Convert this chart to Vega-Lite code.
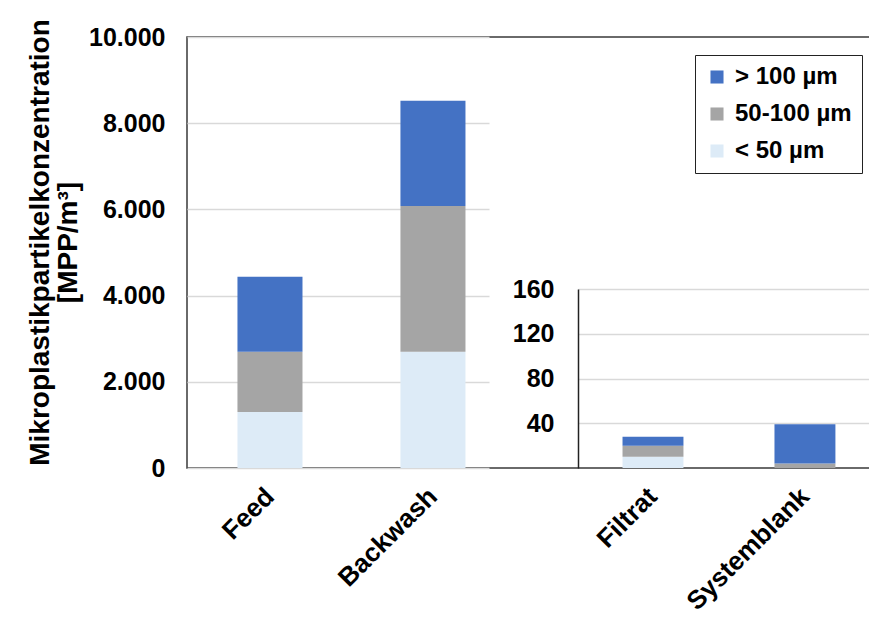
{
  "$schema": "https://vega.github.io/schema/vega-lite/v6.json",
  "width": 683,
  "height": 431,
  "autosize": "none",
  "padding": {"left": 187, "top": 37, "right": -1, "bottom": 151},
  "background": "white",
  "config": {
    "font": "Liberation Sans",
    "view": {"stroke": "#3a3a3a", "strokeWidth": 1.5},
    "axis": {"labelFont": "Liberation Sans", "titleFont": "Liberation Sans", "labelColor": "black", "titleColor": "black"}
  },
  "datasets": {
    "main": [
      {"Probe": "Feed", "Größe": "< 50 µm", "Wert": 1300},
      {"Probe": "Feed", "Größe": "50-100 µm", "Wert": 1400},
      {"Probe": "Feed", "Größe": "> 100 µm", "Wert": 1740},
      {"Probe": "Backwash", "Größe": "< 50 µm", "Wert": 2700},
      {"Probe": "Backwash", "Größe": "50-100 µm", "Wert": 3380},
      {"Probe": "Backwash", "Größe": "> 100 µm", "Wert": 2440}
    ],
    "inset": [
      {"Probe": "Filtrat", "Größe": "< 50 µm", "Wert": 10},
      {"Probe": "Filtrat", "Größe": "50-100 µm", "Wert": 10},
      {"Probe": "Filtrat", "Größe": "> 100 µm", "Wert": 8},
      {"Probe": "Systemblank", "Größe": "< 50 µm", "Wert": 0},
      {"Probe": "Systemblank", "Größe": "50-100 µm", "Wert": 4},
      {"Probe": "Systemblank", "Größe": "> 100 µm", "Wert": 35}
    ]
  },
  "layer": [
    {
      "data": {"name": "main"},
      "transform": [{"calculate": "indexof(['< 50 µm', '50-100 µm', '> 100 µm'], datum['Größe'])", "as": "Stapel"}],
      "mark": {"type": "bar"},
      "encoding": {
        "x": {
          "field": "Probe", "type": "nominal", "sort": ["Feed", "Backwash"],
          "scale": {"range": [0, 302], "paddingInner": 0.601, "paddingOuter": 0.227, "align": 0.682},
          "axis": {"title": null, "orient": "bottom", "labelAngle": -45, "labelAlign": "right", "labelBaseline": "middle", "labelPadding": 24, "labelFontSize": 26, "labelFontWeight": "bold", "ticks": false, "domain": false}
        },
        "y": {
          "field": "Wert", "type": "quantitative", "stack": "zero",
          "scale": {"domain": [0, 10000], "nice": false},
          "axis": {
            "title": ["Mikroplastikpartikelkonzentration", "[MPP/m³]"],
            "titleFontSize": 28, "titleFontWeight": "bold", "titlePadding": 6, "titleLineHeight": 28, "titleY": 205,
            "values": [0, 2000, 4000, 6000, 8000, 10000],
            "labelExpr": "replace(format(datum.value, ','), ',', '.')",
            "labelFontSize": 25, "labelFontWeight": "bold", "labelPadding": 22,
            "ticks": false, "domain": false,
            "grid": true, "gridColor": "#d9d9d9", "gridWidth": 1.5
          }
        },
        "order": {"field": "Stapel", "type": "quantitative", "sort": "ascending"},
        "color": {
          "field": "Größe", "type": "nominal",
          "scale": {"domain": ["> 100 µm", "50-100 µm", "< 50 µm"], "range": ["#4472C4", "#A5A5A5", "#DDEBF7"]},
          "legend": {
            "title": null, "orient": "none", "legendX": 508, "legendY": 18,
            "strokeColor": "#222222", "padding": 10, "symbolType": "square", "symbolSize": 170,
            "labelFontSize": 24, "labelFontWeight": "bold", "labelColor": "black", "rowPadding": 13, "symbolOffset": 0, "labelOffset": 6
          }
        }
      }
    },
    {
      "data": {"name": "inset"},
      "transform": [{"calculate": "indexof(['< 50 µm', '50-100 µm', '> 100 µm'], datum['Größe'])", "as": "Stapel"}],
      "mark": {"type": "bar"},
      "encoding": {
        "x": {
          "field": "Probe", "type": "nominal", "sort": ["Filtrat", "Systemblank"],
          "scale": {"range": [391, 682], "paddingInner": 0.599, "paddingOuter": 0.257, "align": 0.57},
          "axis": {"title": null, "orient": "bottom", "labelAngle": -45, "labelAlign": "right", "labelBaseline": "middle", "labelPadding": 24, "labelFontSize": 26, "labelFontWeight": "bold", "ticks": false, "domain": false}
        },
        "y": {
          "field": "Wert", "type": "quantitative", "stack": "zero",
          "scale": {"domain": [0, 160], "nice": false, "range": [431, 252]},
          "axis": {
            "title": null, "orient": "left", "offset": -391,
            "values": [40, 80, 120, 160],
            "labelFontSize": 25, "labelFontWeight": "bold", "labelPadding": 24,
            "ticks": false, "domain": true, "domainColor": "#222222", "domainWidth": 1.5,
            "grid": true, "gridColor": "#d9d9d9", "gridWidth": 1.5
          }
        },
        "order": {"field": "Stapel", "type": "quantitative", "sort": "ascending"},
        "color": {
          "field": "Größe", "type": "nominal",
          "scale": {"domain": ["> 100 µm", "50-100 µm", "< 50 µm"], "range": ["#4472C4", "#A5A5A5", "#DDEBF7"]}
        }
      }
    }
  ],
  "resolve": {"scale": {"x": "independent", "y": "independent"}, "axis": {"x": "independent", "y": "independent"}}
}
